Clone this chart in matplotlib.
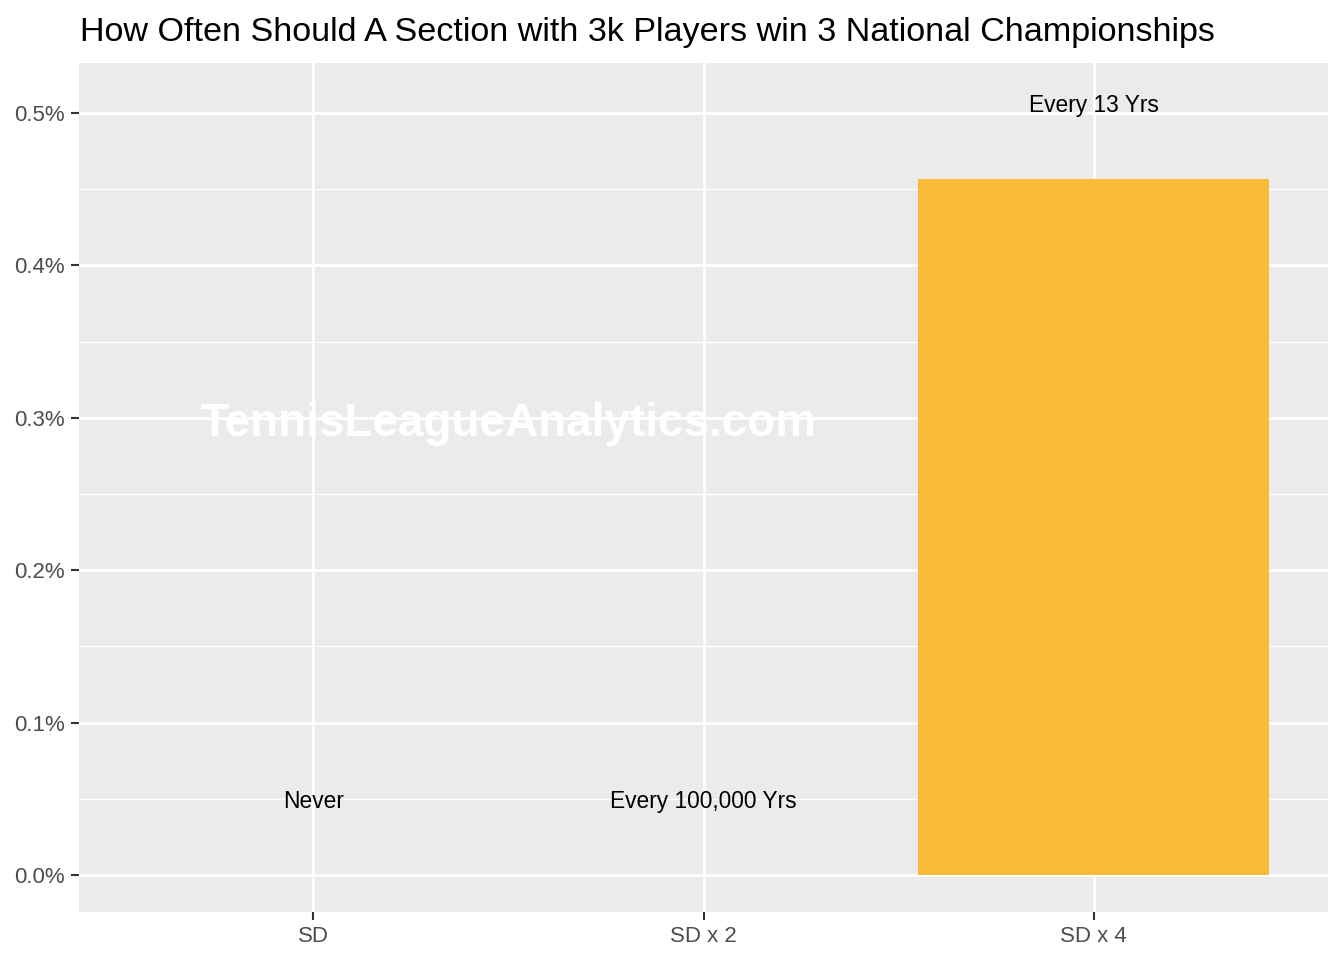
import matplotlib
matplotlib.use('Agg')
import matplotlib.pyplot as plt
from matplotlib.ticker import MultipleLocator, FuncFormatter

plt.rcParams['font.family'] = ['Liberation Sans', 'DejaVu Sans']

categories = ['SD', 'SD x 2', 'SD x 4']
values = [0.0, 0.000001, 0.4567]  # percent
labels = ['Never', 'Every 100,000 Yrs', 'Every 13 Yrs']
label_offset = 0.048

fig = plt.figure(figsize=(13.44, 9.6), dpi=100)
ax = fig.add_axes([79 / 1344, 1 - 912 / 960, (1328 - 79) / 1344, (912 - 63) / 960])
ax.set_facecolor('#EBEBEB')
for s in ax.spines.values():
    s.set_visible(False)

x = range(len(categories))
ax.bar(x, values, width=0.9, color='#F9BA38', zorder=3)
for i, (v, t) in enumerate(zip(values, labels)):
    ax.text(i, v + label_offset, t, ha='center', va='center', fontsize=16.4, color='black', zorder=4)

# watermark
ax.text(0.5, 0.296, 'TennisLeagueAnalytics.com', ha='center', va='center',
        fontsize=33, fontweight='bold', color='white', zorder=5)

ax.set_xlim(-0.6, 2.6)
ax.set_ylim(-0.0243, 0.5328)
ax.set_xticks(list(x))
ax.set_xticklabels(categories)
ax.yaxis.set_major_locator(MultipleLocator(0.1))
ax.yaxis.set_minor_locator(MultipleLocator(0.05))
ax.yaxis.set_major_formatter(FuncFormatter(lambda v, p: f'{v:.1f}%'))
ax.grid(which='major', color='white', linewidth=2, zorder=1)
ax.grid(which='minor', axis='y', color='white', linewidth=1, zorder=1)
ax.tick_params(axis='both', which='major', length=6, width=1.5, color='#333333',
               labelsize=16, labelcolor='#4D4D4D', pad=4)
ax.tick_params(axis='y', which='minor', length=0)
ax.set_axisbelow(True)

fig.text(80 / 1344, 1 - 33 / 960, 'How Often Should A Section with 3k Players win 3 National Championships',
         ha='left', va='center', fontsize=24.6, color='black')

fig.savefig('out.png', dpi=100)
